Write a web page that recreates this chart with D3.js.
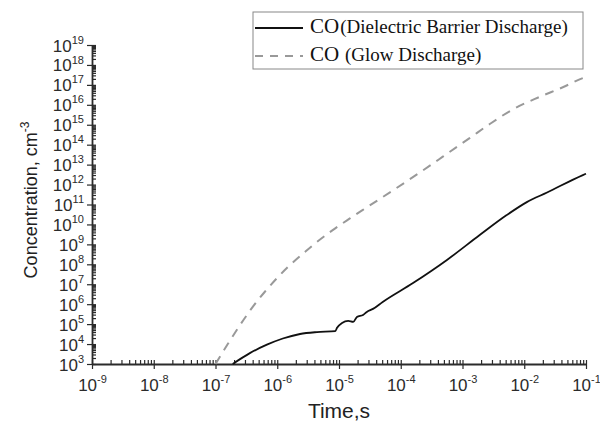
<!DOCTYPE html>
<html>
<head>
<meta charset="utf-8">
<script src="https://cdn.jsdelivr.net/npm/d3@7"></script>
<style>
    body { margin: 0; background: #fff; }
    svg { display: block; }
</style>
</head>
<body>
<svg width="600" height="423"></svg>
<script>
// seconds / cm^-3
let dbdTime = [1.9e-7, 3.6e-7, 6.8e-7, 1.23e-6, 2.34e-6, 4.4e-6, 8.7e-6, 9.3e-6, 1.12e-5, 1.41e-5,
    1.7e-5, 1.95e-5, 2.45e-5, 2.82e-5, 3.55e-5, 5.1e-5, 1.58e-4, 5.6e-4, 1.9e-3, 5.2e-3,
    1.1e-2, 2.34e-2, 8.9e-2, 1e-1];
let dbdConc = [1e3, 3.5e3, 9.3e3, 1.9e4, 3.2e4, 4.0e4, 4.5e4, 6.5e4, 1.15e5, 1.45e5,
    1.3e5, 2.3e5, 2.9e5, 4.1e5, 5.8e5, 1.3e6, 1.15e7, 1.66e8, 2.95e9, 2.95e10,
    1.32e11, 4.0e11, 3.0e12, 3.5e12];

let glowTime = [1e-7, 1.58e-7, 2.29e-7, 3.98e-7, 6.3e-7, 1.48e-6, 2.82e-6, 4.1e-6, 7.9e-6, 1.5e-5,
    2.8e-5, 8.1e-5, 2.3e-4, 4.8e-4, 1.32e-3, 2.8e-3, 6.6e-3, 1.78e-2, 4.3e-2, 8.9e-2, 1e-1];
let glowConc = [1e3, 1e4, 6.0e4, 7.1e5, 4.2e6, 7.2e7, 4.2e8, 1.12e9, 5.2e9, 2.0e10,
    7.1e10, 6.0e11, 5.2e12, 2.5e13, 2.2e14, 1.12e15, 6.0e15, 2.5e16, 7.8e16, 2.2e17, 2.5e17];

let xExponents = [-9, -8, -7, -6, -5, -4, -3, -2, -1];
let yExponents = [3, 4, 5, 6, 7, 8, 9, 10, 11, 12, 13, 14, 15, 16, 17, 18, 19];

let legendItems = [
    {label: "CO", note: "(Dielectric Barrier Discharge)", dash: null},
    {label: "CO", note: " (Glow Discharge)", dash: "8,7"}
];

let svg = d3.select("svg");

let margin = {top: 45, right: 14, bottom: 59, left: 92},
    width = svg.attr("width") - margin.left - margin.right,
    height = svg.attr("height") - margin.top - margin.bottom,
    g = svg.append("g").attr("transform", "translate(" + margin.left + "," + margin.top + ")");

let x = d3.scaleLog().domain([1e-9, 1e-1]).range([0, width]),
    y = d3.scaleLog().domain([1e3, 1e19]).range([height, 0]);

let xMajor = xExponents.map(e => Math.pow(10, e));
let yMajor = yExponents.map(e => Math.pow(10, e));
let minorOf = function (majors) {
    let out = [];
    majors.slice(0, -1).forEach(m => {
        for (let k = 2; k <= 9; k++) out.push(m * k);
    });
    return out;
};

let axisColor = "#2b2b2b";
let tickFont = "Liberation Sans, Arial, sans-serif";

// minor ticks point inward
g.append("g")
    .attr("transform", "translate(0," + height + ")")
    .call(d3.axisBottom(x).tickValues(minorOf(xMajor).concat(xMajor)).tickSize(-4).tickFormat(""))
    .call(a => a.select(".domain").remove());
g.append("g")
    .call(d3.axisLeft(y).tickValues(minorOf(yMajor).concat(yMajor)).tickSize(-4).tickFormat(""))
    .call(a => a.select(".domain").remove());

let xAxis = g.append("g")
    .attr("class", "axis axis--x")
    .attr("transform", "translate(0," + height + ")")
    .call(d3.axisBottom(x).tickValues(xMajor).tickSize(5).tickSizeOuter(0));

let yAxis = g.append("g")
    .attr("class", "axis axis--y")
    .call(d3.axisLeft(y).tickValues(yMajor).tickSize(5).tickSizeOuter(0).tickPadding(3));

g.selectAll(".tick line").attr("stroke", axisColor).attr("stroke-width", 1.2);
g.selectAll(".domain").attr("stroke", axisColor).attr("stroke-width", 1.8);

let powerLabel = function (sel, exps) {
    sel.selectAll(".tick text").each(function (d, i) {
        let t = d3.select(this).text(null)
            .attr("fill", axisColor)
            .style("font-family", tickFont);
        t.append("tspan").style("font-size", "17px").text("10");
        t.append("tspan").style("font-size", "11px").attr("dy", "-0.72em").text(exps[i]);
    });
};
powerLabel(xAxis, xExponents);
powerLabel(yAxis, yExponents);
xAxis.selectAll(".tick text").attr("y", 27).attr("dy", 0).attr("text-anchor", "middle");
yAxis.selectAll(".tick text").attr("dy", 6);

let line = d3.line()
    .curve(d3.curveMonotoneX)
    .x(d => x(d[0]))
    .y(d => y(d[1]));

let glowData = glowTime.map((t, i) => [t, glowConc[i]]);
let dbdData = dbdTime.map((t, i) => [t, dbdConc[i]]);

g.append("path")
    .attr("d", line(glowData))
    .attr("fill", "none")
    .attr("stroke", "#999")
    .attr("stroke-width", 2)
    .attr("stroke-dasharray", "9,7");

g.append("path")
    .attr("d", line(dbdData))
    .attr("fill", "none")
    .attr("stroke", "#111")
    .attr("stroke-width", 1.8);

// axis titles
svg.append("text")
    .attr("transform", "translate(37,200) rotate(-90)")
    .attr("text-anchor", "middle")
    .attr("fill", "#222")
    .style("font", "18px Liberation Sans, Arial, sans-serif")
    .call(t => {
        t.append("tspan").text("Concentration, cm");
        t.append("tspan").attr("dy", "-0.7em").style("font-size", "12px").text("-3");
    });

svg.append("text")
    .attr("x", margin.left + width / 2)
    .attr("y", 418)
    .attr("text-anchor", "middle")
    .attr("fill", "#222")
    .style("font", "21px Liberation Sans, Arial, sans-serif")
    .text("Time,s");

// legend
let legend = svg.append("g").attr("transform", "translate(253,12)");
legend.append("rect")
    .attr("width", 330)
    .attr("height", 57)
    .attr("fill", "#fff")
    .attr("stroke", "#888")
    .attr("stroke-width", 1);

let row = legend.selectAll(".row")
    .data(legendItems)
    .enter().append("g")
    .attr("class", "row")
    .attr("transform", (d, i) => "translate(0," + (16 + i * 28) + ")");

row.append("line")
    .attr("x1", 2).attr("x2", 50)
    .attr("stroke", (d, i) => i === 0 ? "#111" : "#999")
    .attr("stroke-width", 2)
    .attr("stroke-dasharray", d => d.dash);

row.append("text")
    .attr("x", 57)
    .attr("y", 5)
    .attr("fill", "#111")
    .style("font-family", "Liberation Serif, Times New Roman, serif")
    .style("white-space", "pre")
    .call(t => {
        t.append("tspan").style("font-size", "21px").text(d => d.label);
        t.append("tspan").style("font-size", "19px").attr("dx", 1).text(d => d.note);
    });
</script>
</body>
</html>
